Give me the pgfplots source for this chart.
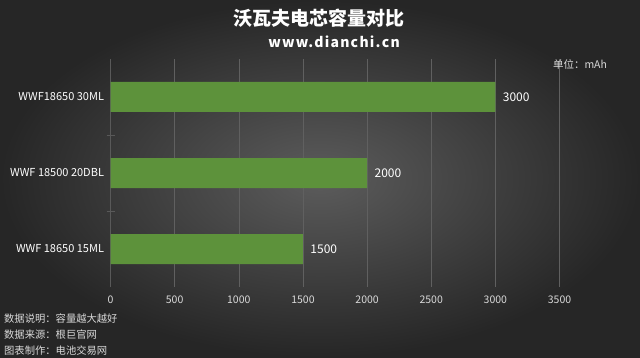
\documentclass[border=0pt]{standalone}
\usepackage{pgfplots}
\pgfplotsset{compat=1.18}
\usepackage{fontspec}
\setmainfont{Noto Sans CJK SC}
\definecolor{barc}{HTML}{5D923B}
\definecolor{tickc}{HTML}{D9D9D9}
\begin{document}
\begin{tikzpicture}[x=1bp,y=1bp]
\shade[inner color={rgb,255:red,92;green,92;blue,92}, outer color={rgb,255:red,38;green,38;blue,38}] (0,0) rectangle (640,357);
\begin{axis}[
  at={(110.5bp,70bp)}, anchor=south west,
  scale only axis, width=449bp, height=228bp,
  xbar, bar width=30bp,
  xmin=0, xmax=3500, ymin=-0.5, ymax=2.5,
  xtick={0,500,...,3500},
  ytick={0,1,2},
  yticklabels={WWF 18650 15ML, WWF 18500 20DBL, WWF18650 30ML},
  minor ytick={0.5,1.5},
  axis x line*=bottom, axis y line*=left,
  x axis line style={draw=none},
  y axis line style={draw=gray!70!black, line width=0.8pt},
  xmajorgrids, grid style={draw=gray!75!black, line width=0.5pt},
  major tick length=0pt,
  minor tick length=8bp,
  minor tick style={draw=gray!70!black, line width=0.8pt},
  tick align=center,
  /pgf/number format/assume math mode=true,
  /pgf/number format/1000 sep={},
  xticklabel style={font=\fontsize{10.5bp}{12bp}\selectfont, text=tickc, yshift=-5bp},
  yticklabel style={font=\fontsize{11bp}{13bp}\selectfont, text=white, xshift=-3bp},
  nodes near coords,
  point meta=x,
  every node near coord/.append style={font=\fontsize{12bp}{14bp}\selectfont, text=white, anchor=west, xshift=4bp},
  clip=false,
]
\addplot[fill=barc, draw=none] coordinates {(1500,0) (2000,1) (3000,2)};
\end{axis}
\node[text=white, font=\fontsize{19bp}{23bp}\selectfont\bfseries] at (319,339) {沃瓦夫电芯容量对比};
\node[text=white, font=\fontsize{14bp}{16bp}\selectfont\bfseries\addfontfeature{LetterSpace=9}] at (334,315) {www.dianchi.cn};
\node[text=tickc, font=\fontsize{10.5bp}{12bp}\selectfont] at (580,293) {单位：mAh};
\node[text=tickc, font=\fontsize{10.3bp}{12bp}\selectfont, anchor=west, inner sep=0pt] at (4,38) {数据说明：容量越大越好};
\node[text=tickc, font=\fontsize{10.3bp}{12bp}\selectfont, anchor=west, inner sep=0pt] at (4,22) {数据来源：根巨官网};
\node[text=tickc, font=\fontsize{10.3bp}{12bp}\selectfont, anchor=west, inner sep=0pt] at (4,6.5) {图表制作：电池交易网};
\end{tikzpicture}
\end{document}
